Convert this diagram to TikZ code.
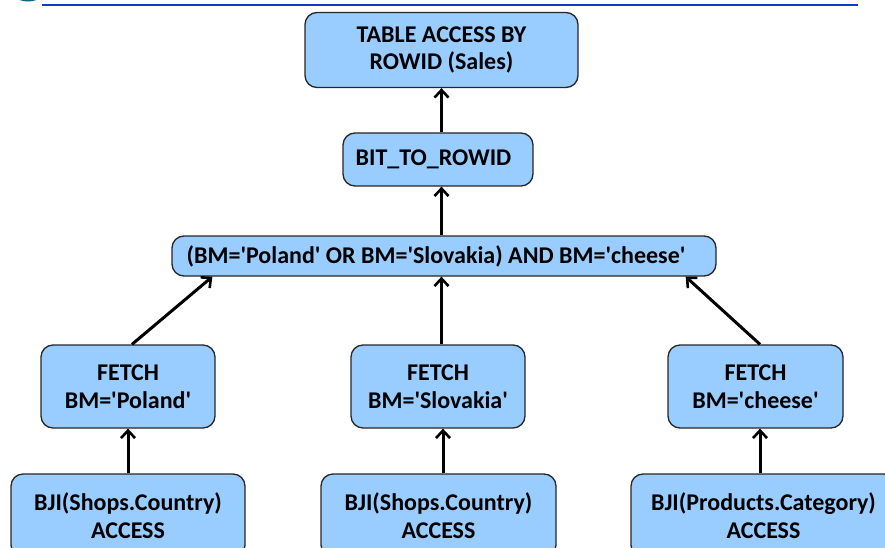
\documentclass[tikz,border=0pt]{standalone}
\usepackage{fontspec}
\setmainfont{Carlito}
\usepackage{xcolor}
\usepackage{tikz}
\usetikzlibrary{positioning,calc,arrows.meta}

\definecolor{boxblue}{RGB}{153,204,255}
\definecolor{rulebl}{RGB}{12,58,208}
\definecolor{logoteal}{RGB}{20,96,128}
\newcommand{\sq}{\textquotesingle}

\begin{document}
\begin{tikzpicture}[x=1pt,y=-1pt,
    op/.style={draw=black!85, line width=1.3pt, fill=boxblue, rounded corners=12pt,
        align=center, inner sep=0pt,
        font=\fontsize{24}{27.5}\selectfont\bfseries},
    flow/.style={line width=3pt, -{Straight Barb[length=7.5pt,width=14pt,line width=2.6pt]}}]
    \useasboundingbox (0,0) rectangle (885,548);

    % header rule
    \begin{scope}
        \clip (0,0) rectangle (885,548);
        \fill[logoteal] (28,-3) ellipse (11 and 4.5);
    \end{scope}
    \draw[line width=2.6pt, rulebl] (42,5) -- (858,5);

    % plan nodes
    \node[op, minimum width=273pt, minimum height=75pt] (top) at (441.5,50) {TABLE ACCESS BY\\ROWID (Sales)};
    \node[op, minimum width=190pt, minimum height=53pt] (bit) at (438,159.5) {BIT\_TO\_ROWID\hspace*{9pt}};
    \node[op, minimum width=544pt, minimum height=40pt] (cond) at (444,256) {(BM=\sq Poland\sq{} OR BM=\sq Slovakia) AND BM=\sq cheese\sq\hspace*{16pt}};

    \node[op, minimum width=174pt, minimum height=83pt] (fpl) at (128,386.5) {FETCH\\BM=\sq Poland\sq};
    \node[op, minimum width=174pt, minimum height=83pt] (fsk) at (438,386.5) {FETCH\\BM=\sq Slovakia\sq};
    \node[op, minimum width=175pt, minimum height=83pt] (fch) at (755.5,386.5) {FETCH\\BM=\sq cheese\sq};

    \node[op, minimum width=234pt, minimum height=83pt] (bpl) at (128,515.5) {BJI(Shops.Country)\\ACCESS};
    \node[op, minimum width=235pt, minimum height=83pt] (bsk) at (438.5,515.5) {BJI(Shops.Country)\\ACCESS};
    \node[op, minimum width=265pt, minimum height=83pt] (bch) at (763.5,515.5) {BJI(Products.Category)\\ACCESS};

    % arrows
    \draw[flow] (bit.north -| top.south) -- (top.south);
    \draw[flow] (cond.north -| top.south) -- (bit.south -| top.south);
    \draw[flow] (fsk.north -| top.south) -- (cond.south -| top.south);
    \draw[flow] ([xshift=4pt]fpl.north) -- ([xshift=41pt]cond.south west);
    \draw[flow] ([xshift=4.5pt]fch.north) -- ([xshift=-31pt]cond.south east);

    \draw[flow] (bpl.north) -- (fpl.south);
    \draw[flow] ([xshift=4.5pt]bsk.north) -- ([xshift=5pt]fsk.south);
    \draw[flow] ([xshift=4.5pt]fch.south |- bch.north) -- ([xshift=4.5pt]fch.south);
\end{tikzpicture}
\end{document}
